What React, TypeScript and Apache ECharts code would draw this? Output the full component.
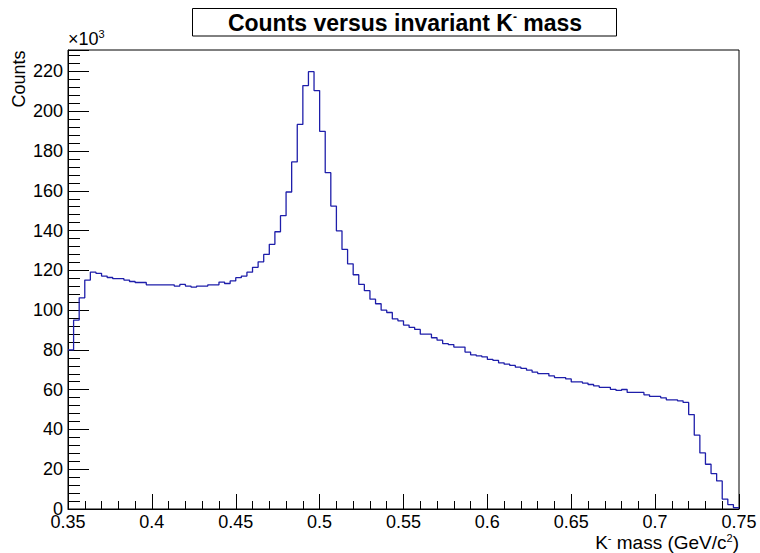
import React, { useEffect, useRef } from "react";
import * as echarts from "echarts";

// Histogram definition
const X_MIN = 0.35;
const X_MAX = 0.75;
const N_BINS = 120;

// Bin contents in units of 10^3 counts
const countsK: number[] = [
  80.0, 95.0, 106.2, 115.1, 119.1, 118.5, 117.1, 116.4, 115.8, 115.8,
  115.1, 114.4, 113.9, 113.9, 112.7, 112.7, 112.7, 112.7, 112.7, 112.1,
  112.9, 112.1, 111.6, 112.1, 112.1, 112.7, 112.7, 114.1, 113.4, 114.7,
  116.3, 117.1, 119.1, 121.5, 124.3, 128.0, 133.1, 139.4, 147.5, 159.4,
  174.5, 193.4, 212.9, 219.9, 210.4, 189.9, 169.1, 152.3, 139.9, 130.5,
  123.3, 117.8, 112.9, 109.8, 105.5, 103.2, 100.0, 98.8, 95.6, 94.6,
  92.5, 91.3, 90.3, 87.9, 87.9, 86.1, 84.9, 83.2, 82.7, 81.4,
  81.4, 78.9, 77.5, 77.0, 76.5, 75.2, 74.7, 73.5, 72.8, 72.2,
  71.3, 70.7, 69.8, 68.8, 68.1, 68.1, 66.9, 66.1, 66.1, 65.4,
  63.9, 63.9, 63.3, 62.6, 61.9, 61.2, 61.2, 60.2, 59.6, 60.1,
  58.6, 58.6, 58.6, 57.4, 56.6, 56.6, 55.9, 54.9, 54.9, 54.4,
  53.6, 47.5, 37.1, 28.2, 22.5, 17.8, 14.1, 5.0, 2.2, 0.7,
];

const xTickStep = 0.05;
const yTickStep = 20;
const yMaxK = 230.8;

const titleText = "Counts versus invariant K{sup|-} mass";
const xTitle = "K{sup|-} mass (GeV/c{sup|2})";
const yTitle = "Counts";

const FONT = '"Liberation Sans", Arial, Helvetica, sans-serif';

export default function App() {
  const ref = useRef<HTMLDivElement>(null);

  useEffect(() => {
    if (!ref.current) return;
    const chart = echarts.init(ref.current, undefined, { renderer: "svg" });
    const binW = (X_MAX - X_MIN) / N_BINS;
    const data: [number, number][] = countsK.map((v, i) => [X_MIN + i * binW, v]);
    data.push([X_MAX, countsK[countsK.length - 1]]);

    const gl = 68, gt = 50, gr = 739, gb = 509;

    chart.setOption({
      animation: false,
      backgroundColor: "#ffffff",
      grid: {
        left: gl,
        top: gt,
        right: 760 - gr,
        bottom: 553 - gb,
        show: true,
        borderColor: "#000",
        borderWidth: 1,
        backgroundColor: "transparent",
      },
      xAxis: {
        type: "value",
        min: X_MIN,
        max: X_MAX,
        interval: xTickStep,
        axisLine: { show: true, onZero: false, lineStyle: { color: "#000", width: 1 } },
        axisTick: { show: true, inside: true, length: 15, lineStyle: { color: "#000", width: 1 } },
        minorTick: { show: true, splitNumber: 5, length: 8, lineStyle: { color: "#000", width: 1 } },
        splitLine: { show: false },
        axisLabel: {
          color: "#000",
          fontFamily: FONT,
          fontSize: 18,
          margin: 4,
          lineHeight: 18,
          formatter: (v: number) => String(parseFloat(v.toFixed(2))),
        },
      },
      yAxis: {
        type: "value",
        min: 0,
        max: yMaxK,
        interval: yTickStep,
        axisLine: { show: true, lineStyle: { color: "#000", width: 1 } },
        axisTick: { show: true, inside: true, length: 21, lineStyle: { color: "#000", width: 1 } },
        minorTick: { show: true, splitNumber: 5, length: 12, lineStyle: { color: "#000", width: 1 } },
        splitLine: { show: false },
        axisLabel: {
          color: "#000",
          fontFamily: FONT,
          fontSize: 18,
          margin: 5,
          showMaxLabel: false,
        },
      },
      series: [
        {
          type: "line",
          step: "end",
          symbol: "none",
          data,
          lineStyle: { color: "#1e1eaa", width: 1.3 },
          clip: true,
        },
      ],
      graphic: [
        {
          type: "rect",
          shape: { x: 192.5, y: 8.5, width: 424, height: 27.5 },
          style: { fill: "#fff", stroke: "#000", lineWidth: 1 },
        },
        {
          type: "text",
          x: 405,
          y: 22.5,
          style: {
            text: titleText,
            fill: "#000",
            font: `bold 23px ${FONT}`,
            align: "center",
            verticalAlign: "middle",
            lineHeight: 24,
            rich: {
              sup: { fontSize: 12, fontWeight: "bold", fontFamily: FONT, verticalAlign: "top", lineHeight: 12, fill: "#000" },
            },
          },
        },
        {
          type: "text",
          x: 739,
          y: 542,
          style: {
            text: xTitle,
            fill: "#000",
            font: `19px ${FONT}`,
            align: "right",
            verticalAlign: "middle",
            lineHeight: 19,
            rich: {
              sup: { fontSize: 11, fontFamily: FONT, verticalAlign: "top", lineHeight: 11, fill: "#000" },
            },
          },
        },
        {
          type: "text",
          x: 19,
          y: 79,
          rotation: Math.PI / 2,
          style: {
            text: yTitle,
            fill: "#000",
            font: `18px ${FONT}`,
            align: "center",
            verticalAlign: "middle",
          },
        },
        {
          type: "text",
          x: 68,
          y: 39,
          style: {
            text: "×10{sup|3}",
            fill: "#000",
            font: `18px ${FONT}`,
            align: "left",
            verticalAlign: "middle",
            lineHeight: 22,
            rich: {
              sup: { fontSize: 11, fontFamily: FONT, verticalAlign: "top", lineHeight: 11, fill: "#000" },
            },
          },
        },
      ],
    });
    return () => chart.dispose();
  }, []);

  return (
    <div
      ref={ref}
      style={{ position: "fixed", left: 0, top: 0, width: 760, height: 553, background: "#fff" }}
    />
  );
}
